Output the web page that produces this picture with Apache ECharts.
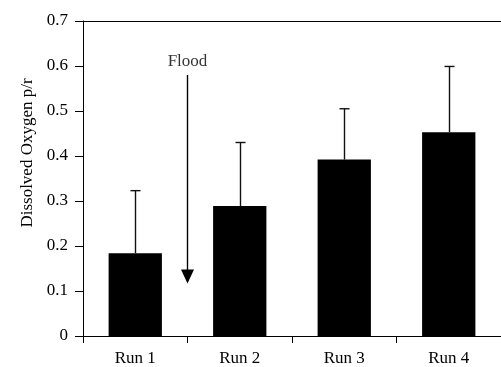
<!DOCTYPE html>
<html>
<head>
<meta charset="utf-8">
<script src="https://cdn.jsdelivr.net/npm/echarts@6/dist/echarts.min.js"></script>
<style>
  html, body { margin: 0; padding: 0; background: #fff; }
  #chart { width: 501px; height: 367px; }
</style>
</head>
<body>
<div id="chart"></div>
<script>
// chart data
const runs = ["Run 1", "Run 2", "Run 3", "Run 4"];
const oxygen = [0.184, 0.289, 0.392, 0.453];
const errUp = [0.139, 0.141, 0.113, 0.146];
const yTicks = [0, 0.1, 0.2, 0.3, 0.4, 0.5, 0.6, 0.7];

// flood annotation (x in run units, 1.5 = between Run 1 and Run 2)
const floodX = 1.5;
const floodTop = 0.58;
const floodBottom = 0.117;

const font = "Liberation Serif";
const chart = echarts.init(document.getElementById("chart"));

const errorData = runs.map((r, i) => [i, oxygen[i], oxygen[i] + errUp[i]]);

const option = {
  animation: false,
  grid: { left: 83, top: 21, right: -3, bottom: 30 },
  xAxis: [
    {
      type: "category",
      data: runs,
      boundaryGap: true,
      axisLine: { lineStyle: { color: "#000", width: 1 } },
      axisTick: { show: true, length: 7, inside: false, lineStyle: { color: "#000" } },
      axisLabel: { color: "#000", fontFamily: font, fontSize: 17, margin: 14 },
      splitLine: { show: false }
    },
    {
      // hidden value axis for the flood arrow; draws the top frame line
      type: "value",
      position: "top",
      min: 0.5,
      max: 4.5,
      axisLine: { show: true, onZero: false, lineStyle: { color: "#000", width: 1 } },
      axisTick: { show: false },
      axisLabel: { show: false },
      splitLine: { show: false }
    }
  ],
  yAxis: {
    type: "value",
    min: 0,
    max: 0.7,
    interval: 0.1,
    name: "Dissolved Oxygen p/r",
    nameLocation: "middle",
    nameGap: 42,
    nameTextStyle: { color: "#000", fontFamily: font, fontSize: 17, padding: [0, 0, 0, 51] },
    axisLine: { show: true, lineStyle: { color: "#000", width: 1 } },
    axisTick: { show: true, length: 8, lineStyle: { color: "#000" } },
    axisLabel: {
      color: "#000",
      fontFamily: font,
      fontSize: 17,
      margin: 15,
      formatter: v => {
        const t = yTicks.find(x => Math.abs(x - v) < 1e-9);
        return t === undefined ? "" : String(+t.toFixed(1));
      }
    },
    splitLine: { show: false }
  },
  series: [
    {
      type: "bar",
      data: oxygen,
      barWidth: "51%",
      itemStyle: { color: "#000" },
      z: 2
    },
    {
      type: "custom",
      data: errorData,
      z: 3,
      renderItem: (params, api) => {
        const base = api.coord([api.value(0), api.value(1)]);
        const top = api.coord([api.value(0), api.value(2)]);
        const x = Math.round(base[0]) + 0.5;
        const cap = 5;
        const style = { stroke: "#111", lineWidth: 1.4 };
        return {
          type: "group",
          children: [
            { type: "line", shape: { x1: x, y1: base[1], x2: x, y2: top[1] }, style },
            { type: "line", shape: { x1: x - cap, y1: top[1], x2: x + cap, y2: top[1] }, style }
          ]
        };
      }
    },
    {
      type: "line",
      xAxisIndex: 1,
      data: [],
      markLine: {
        silent: true,
        symbol: ["none", "triangle"],
        symbolSize: [13, 14],
        lineStyle: { color: "#000", width: 1.4, type: "solid" },
        label: { show: false },
        data: [[{ coord: [floodX, floodTop] }, { coord: [floodX, floodBottom + 0.015] }]]
      }
    },
    {
      type: "scatter",
      xAxisIndex: 1,
      symbolSize: 0,
      data: [[floodX, floodTop]],
      label: {
        show: true,
        position: "top",
        distance: 5,
        formatter: "Flood",
        color: "#000",
        fontFamily: font,
        fontSize: 17
      }
    }
  ]
};

chart.setOption(option);
</script>
</body>
</html>
